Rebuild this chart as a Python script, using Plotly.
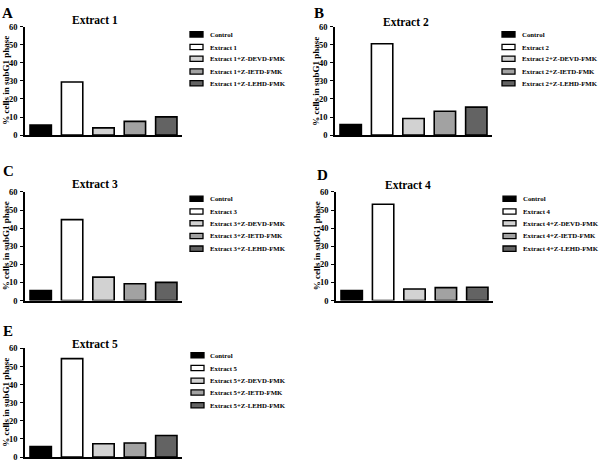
import plotly.graph_objects as go

W, H = 600, 466

# ---------------- data ----------------
panel_letters = ["A", "B", "C", "D", "E"]
extract_names = ["Extract 1", "Extract 2", "Extract 3", "Extract 4", "Extract 5"]
treatments = ["Z-DEVD-FMK", "Z-IETD-FMK", "Z-LEHD-FMK"]
y_ticks = [0, 10, 20, 30, 40, 50, 60]
y_axis_title = "% cells in subG1 phase"

values_A = [5.6, 29.4, 4.0, 7.6, 10.1]
values_B = [5.8, 50.5, 9.2, 13.2, 15.5]
values_C = [5.5, 44.7, 12.9, 9.3, 10.0]
values_D = [5.5, 53.2, 6.4, 7.1, 7.3]
values_E = [5.8, 54.4, 7.4, 7.8, 11.9]
all_values = [values_A, values_B, values_C, values_D, values_E]

def labels_for(name):
    return ["Control", name] + [name + "+" + t for t in treatments]

# ---------------- styling / layout ----------------
bar_colors = ["#000000", "#ffffff", "#d2d2d2", "#a2a2a2", "#636363"]
FONT = "Liberation Serif"

# panel geometry in pixels: axis left, axis right, y of 0, y of 60
geom = [
    dict(x0=25, x1=182, yb=133, yt=22, title=(95, 15.5), letter=(7.5, 8.5), ylab=(6, 77.5),
         leg_sw=190, leg_tx=208, leg_y=[30, 43, 55, 68, 80]),
    dict(x0=335, x1=492, yb=133, yt=22, title=(406, 17), letter=(318.5, 8.5), ylab=(316, 77.5),
         leg_sw=502, leg_tx=520, leg_y=[30, 43, 55, 68, 80]),
    dict(x0=25, x1=182, yb=302, yt=191, title=(95, 182.5), letter=(8, 170), ylab=(6, 246.5),
         leg_sw=190, leg_tx=208, leg_y=[198, 211, 223, 236, 249]),
    dict(x0=336, x1=493, yb=302, yt=191, title=(408, 183.5), letter=(322, 174), ylab=(317, 246.5),
         leg_sw=503, leg_tx=521, leg_y=[198, 211, 223, 236, 249]),
    dict(x0=25, x1=182, yb=462, yt=351, title=(95, 346.5), letter=(7.5, 333.5), ylab=(6, 406.5),
         leg_sw=191, leg_tx=208, leg_y=[358, 371, 384, 396, 409]),
]

def px(x):
    return x / W

def py(y):
    return 1 - y / H

fig = go.Figure()
annotations = []
shapes = []
layout = {}

for i, (letter, name, vals, g) in enumerate(zip(panel_letters, extract_names, all_values, geom)):
    sfx = "" if i == 0 else str(i + 1)
    cats = labels_for(name)
    fig.add_trace(go.Bar(
        x=cats, y=vals,
        xaxis="x" + sfx, yaxis="y" + sfx,
        marker=dict(color=bar_colors, line=dict(color="black", width=1.6)),
        width=0.68, showlegend=False, hoverinfo="x+y",
    ))
    layout["xaxis" + sfx] = dict(
        domain=[px(g["x0"]), px(g["x1"])], anchor="y" + sfx,
        range=[-0.5, 4.5], showticklabels=False, ticks="", showline=True,
        linecolor="black", linewidth=1.6, showgrid=False, zeroline=False,
        fixedrange=True,
    )
    layout["yaxis" + sfx] = dict(
        domain=[py(g["yb"]), py(g["yt"])], anchor="x" + sfx,
        range=[0, 60], tickvals=y_ticks, ticks="outside", ticklen=3, tickwidth=1.4,
        tickcolor="black", showline=True, linecolor="black", linewidth=1.6,
        showgrid=False, zeroline=False,
        tickfont=dict(family=FONT, size=8.5, color="black", weight="bold"),
        ticklabelstandoff=1,
    )
    # panel title
    annotations.append(dict(
        x=px(g["title"][0]), y=py(g["title"][1]), xref="paper", yref="paper",
        text="<b>" + name + "</b>", showarrow=False, xanchor="center", yanchor="middle",
        font=dict(family=FONT, size=11.5, color="black"),
    ))
    # panel letter
    annotations.append(dict(
        x=px(g["letter"][0]), y=py(g["letter"][1]), xref="paper", yref="paper",
        text="<b>" + letter + "</b>", showarrow=False, xanchor="center", yanchor="middle",
        font=dict(family=FONT, size=15, color="black"),
    ))
    # y-axis title
    annotations.append(dict(
        x=px(g["ylab"][0]), y=py(g["ylab"][1]), xref="paper", yref="paper",
        text="<b>" + y_axis_title + "</b>", showarrow=False, textangle=-90,
        xanchor="center", yanchor="middle",
        font=dict(family=FONT, size=9, color="black"),
    ))
    # legend (swatches + labels)
    for lab, col, ly in zip(cats, bar_colors, g["leg_y"]):
        shapes.append(dict(
            type="rect", xref="paper", yref="paper",
            x0=px(g["leg_sw"]), x1=px(g["leg_sw"] + 13),
            y0=py(ly + 2.7), y1=py(ly - 2.7),
            fillcolor=col, line=dict(color="black", width=1.3),
        ))
        annotations.append(dict(
            x=px(g["leg_tx"]), y=py(ly), xref="paper", yref="paper",
            text="<b>" + lab + "</b>", showarrow=False, xanchor="left", yanchor="middle",
            font=dict(family=FONT, size=6.8, color="black"),
        ))

fig.update_layout(
    width=W, height=H,
    margin=dict(l=0, r=0, t=0, b=0),
    paper_bgcolor="white", plot_bgcolor="white",
    annotations=annotations, shapes=shapes,
    showlegend=False,
    **layout,
)

fig.write_html(
    "out.html",
    config={"displayModeBar": False},
    post_script="document.body.style.margin='0';document.body.style.padding='0';"
                "document.body.style.overflow='hidden';",
)
